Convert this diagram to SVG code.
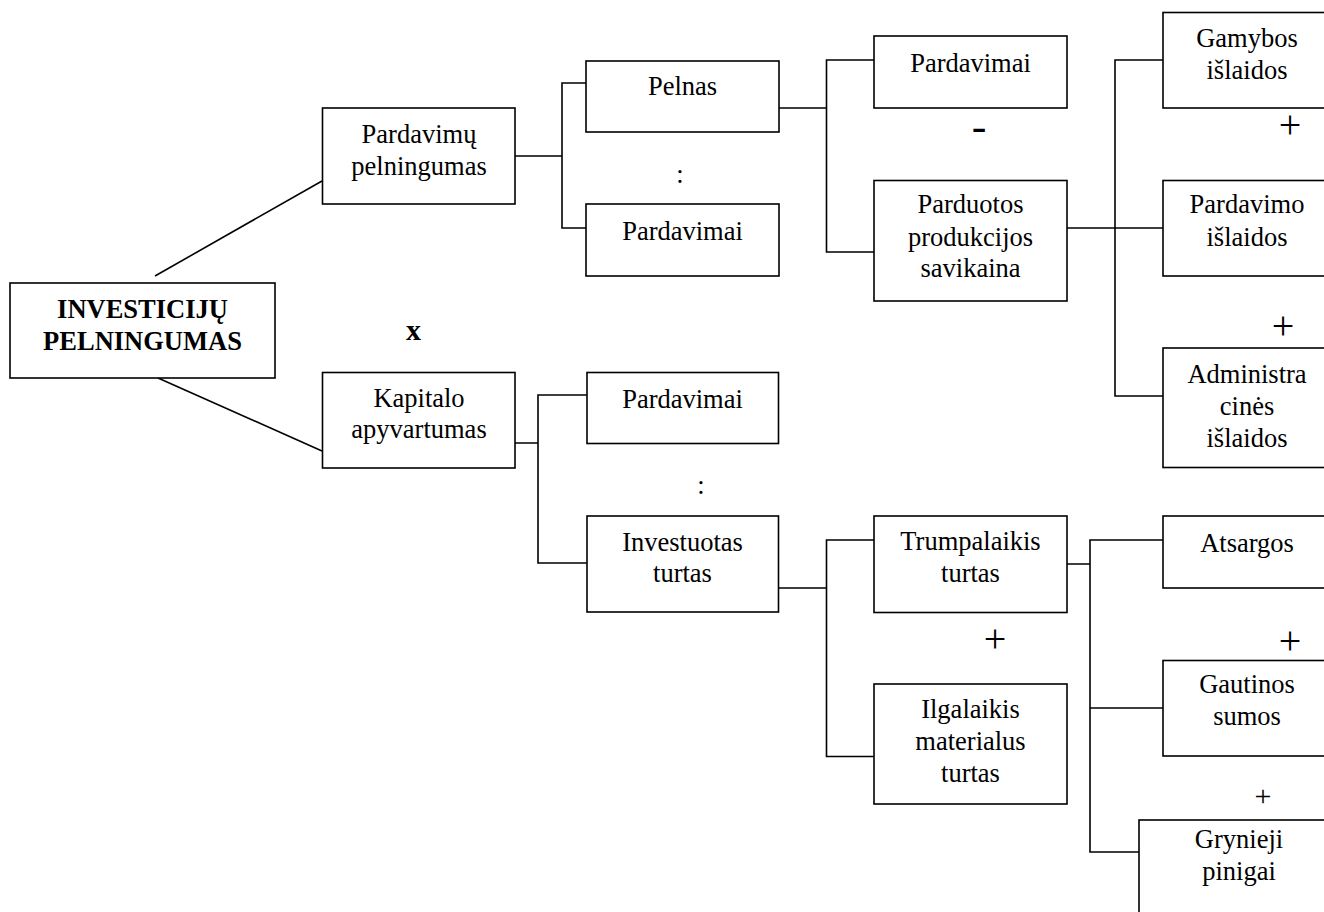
<svg xmlns="http://www.w3.org/2000/svg" width="1324" height="912" viewBox="0 0 1324 912">
<style>
.b{fill:#fff;stroke:#000;stroke-width:1.6}
.c{fill:none;stroke:#000;stroke-width:1.6}
text{font-family:"Liberation Serif","Times New Roman",serif;font-size:26.5px;fill:#000;text-anchor:middle}
.bold{font-weight:bold}
.op{font-size:40px}
.ops{font-size:30px}
</style>
<rect width="1324" height="912" fill="#fff"/>
<g id="connectors">
<line class="c" x1="155" y1="276" x2="322" y2="181"/>
<line class="c" x1="158" y1="378" x2="322" y2="451"/>
<path class="c" d="M515 156H562M586 83H562V228H586"/>
<path class="c" d="M779 108H826.5M874 60H826.5V252H874"/>
<path class="c" d="M1067 228H1163M1163 60H1115V396H1163"/>
<path class="c" d="M515 443H538M587 395H538V563H587"/>
<path class="c" d="M779 588H826.5M874 540H826.5V756.5H874"/>
<path class="c" d="M1067 564H1090M1163 540H1090V852H1139M1090 708H1163"/>
</g>
<g id="n-main"><rect class="b" x="10" y="283" width="265" height="95"/><text class="bold" x="142.5" y="318">INVESTICIJŲ</text><text class="bold" x="142.5" y="350">PELNINGUMAS</text></g>
<g id="n-pardpeln"><rect class="b" x="322.5" y="108" width="192.5" height="96"/><text x="419" y="143">Pardavimų</text><text x="419" y="175">pelningumas</text></g>
<g id="n-pelnas"><rect class="b" x="586" y="61" width="193" height="71"/><text x="682.5" y="95">Pelnas</text></g>
<g id="n-pard2"><rect class="b" x="586" y="204" width="193" height="72"/><text x="682.5" y="240">Pardavimai</text></g>
<g id="n-pard3"><rect class="b" x="874" y="36" width="193" height="72"/><text x="970.5" y="72">Pardavimai</text></g>
<g id="n-savik"><rect class="b" x="874" y="180.5" width="193" height="120.5"/><text x="970.5" y="213">Parduotos</text><text x="970.5" y="246">produkcijos</text><text x="970.5" y="277">savikaina</text></g>
<g id="n-gamybos"><rect class="b" x="1163" y="12.5" width="170" height="95.5"/><text x="1247" y="47">Gamybos</text><text x="1247" y="79">išlaidos</text></g>
<g id="n-pardisl"><rect class="b" x="1163" y="180.5" width="170" height="95.5"/><text x="1247" y="213">Pardavimo</text><text x="1247" y="246">išlaidos</text></g>
<g id="n-admin"><rect class="b" x="1163" y="348" width="170" height="119.5"/><text x="1247" y="383">Administra</text><text x="1247" y="415">cinės</text><text x="1247" y="447">išlaidos</text></g>
<g id="n-kapit"><rect class="b" x="322.5" y="372.5" width="192.5" height="95.5"/><text x="419" y="407">Kapitalo</text><text x="419" y="438">apyvartumas</text></g>
<g id="n-pard4"><rect class="b" x="587" y="372.5" width="191.5" height="71"/><text x="682.5" y="408">Pardavimai</text></g>
<g id="n-invest"><rect class="b" x="587" y="516" width="191.5" height="96"/><text x="682.5" y="551">Investuotas</text><text x="682.5" y="582">turtas</text></g>
<g id="n-trump"><rect class="b" x="874" y="516" width="193" height="96.5"/><text x="970.5" y="550">Trumpalaikis</text><text x="970.5" y="582">turtas</text></g>
<g id="n-ilgal"><rect class="b" x="874" y="684" width="193" height="120"/><text x="970.5" y="718">Ilgalaikis</text><text x="970.5" y="750">materialus</text><text x="970.5" y="782">turtas</text></g>
<g id="n-atsarg"><rect class="b" x="1163" y="516" width="170" height="72"/><text x="1247" y="552">Atsargos</text></g>
<g id="n-gautin"><rect class="b" x="1163" y="660.5" width="170" height="95.5"/><text x="1247" y="693">Gautinos</text><text x="1247" y="725">sumos</text></g>
<g id="n-gryn"><rect class="b" x="1139" y="820" width="200" height="110"/><text x="1239" y="848">Grynieji</text><text x="1239" y="880">pinigai</text></g>
<g id="operators">
<text class="bold" x="413.5" y="340" style="font-size:30px">x</text>
<text x="680" y="183">:</text>
<text x="701" y="494">:</text>
<text x="979" y="141" style="font-size:44px">-</text>
<text class="op" x="1290" y="138">+</text>
<text class="op" x="1283" y="339">+</text>
<text class="op" x="995" y="652">+</text>
<text class="op" x="1290" y="654">+</text>
<text class="ops" x="1263" y="806">+</text>
</g>
</svg>
